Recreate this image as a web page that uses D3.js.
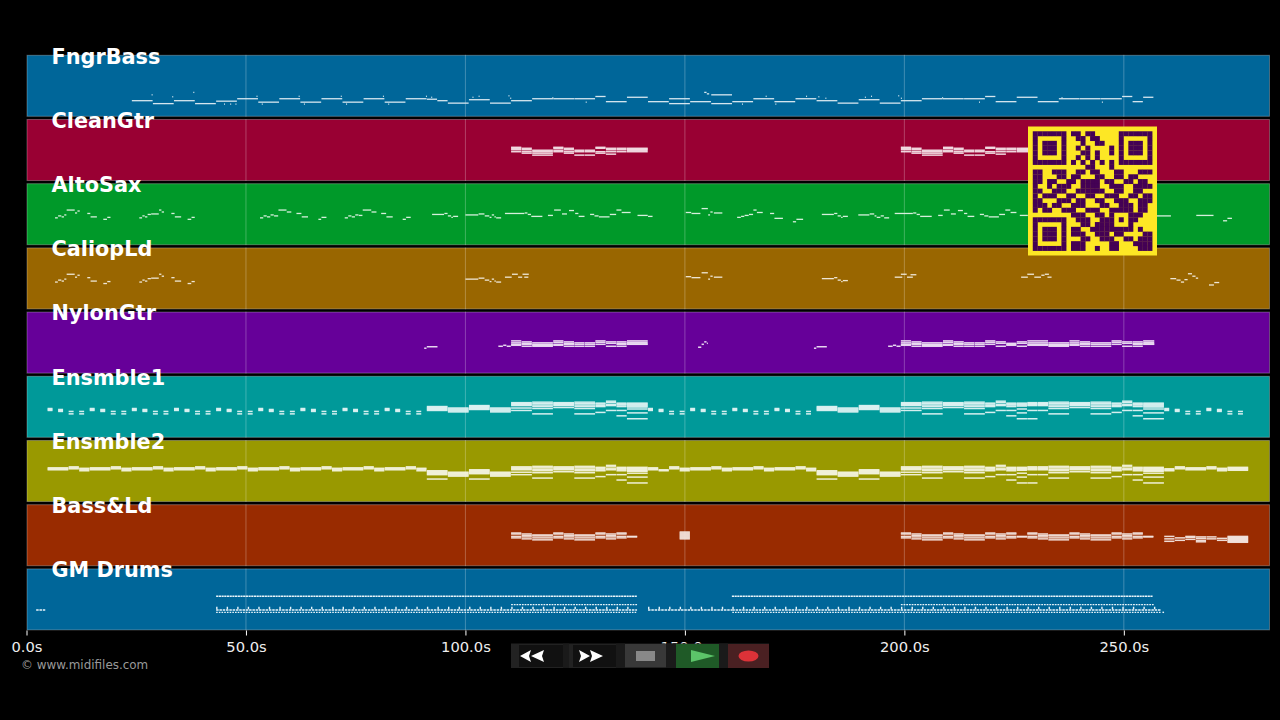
<!DOCTYPE html>
<html><head><meta charset="utf-8"><style>html,body{margin:0;background:#000;overflow:hidden}</style>
<script src="https://cdn.jsdelivr.net/npm/d3@7"></script></head><body><svg id="c" width="1280" height="720"></svg>
<script>
const tracks=["FngrBass","CleanGtr","AltoSax","CaliopLd","NylonGtr","Ensmble1","Ensmble2","Bass&Ld","GM Drums"];
const trackColors=["#006699","#990033","#009929","#996600","#660099","#009999","#999900","#992b00","#006699"];
const timeTicks=[0,50,100,150,200,250];
const duration=283.3;
// notes: [start seconds, end seconds, pitch, pitch...]
const fngrBass=[[24,28.8,33],[28.8,33.6,27],[33.6,38.4,33],[38.4,43.2,27],[43.2,48,32],[48,52.8,37],[52.8,57.6,30],[57.6,62.4,37],[62.4,67.2,30],[67.2,72,37],[72,76.8,30],[76.8,81.6,37],[81.6,86.4,30],[86.4,91.2,37],[91.2,93.6,36],[93.6,96,33],[96,100.8,28],[100.8,105.6,35],[105.6,110.4,28],[110.4,115.2,33],[115.2,120,37],[120,124.8,37],[124.8,129.6,37],[129.6,132,41.6],[132,136.8,31],[136.8,141.6,40],[141.6,146.4,31],[146.4,151.2,37,27],[151.2,156,31],[156,160.8,45,27],[154.4,155,50],[155,155.6,47],[160.8,165.6,31],[165.6,170.4,37],[170.4,175.2,31],[175.2,180,37],[180,184.8,33],[184.8,189.6,28],[189.6,194.4,35],[194.4,199.2,28],[199.2,204,33],[204,208.8,37],[208.8,213.6,37],[213.6,218.4,37],[218.4,220.8,41.6],[220.8,225.6,31],[225.6,230.4,40],[230.4,235.2,31],[235.2,240,37],[240,244.8,37],[244.8,249.6,37],[249.6,252,41.6],[252,254.4,31],[254.4,256.8,40],
[28.5,28.8,45],[33.2,33.5,41],[38,38.3,50],[45,45.3,26],[46.4,46.7,26],[47.6,47.9,26],[52.4,52.7,42],[53.6,53.9,26],[62,62.3,42],[63.2,63.5,26],[71.6,71.9,42],[72.8,73.1,26],[81.2,81.5,42],[82.4,82.7,26],[91,91.3,42],[92.2,92.5,40],[101.6,101.9,40],[103,103.3,42],[109.8,110.1,43],[110.2,110.5,38],[119.8,120.1,39],[127.4,127.7,30],[163,163.3,26],[168.4,168.7,42],[170.6,170.9,26],[177.6,177.9,42],[180.4,180.7,41],[182,182.3,38],[191,191.3,40],[192.4,192.7,42],[198.6,198.9,43],[199.2,199.5,38],[208.6,208.9,39],[217,217.3,30],[235.8,236.1,39],[245,245.3,30]];
const cleanGtr=[[110.4,112.8,69,67,64,60],[112.8,115.2,67,64,60,57],[115.2,120,63,60,57,53],[120,122.4,69,67,63,60],[122.4,124.8,67,64,60,57],[124.8,127.2,63,60,53],[127.2,129.6,63,60,53],[129.6,132,69,67,60,57],[132,134.4,67,64,60,55],[134.4,136.8,67,64,60],[136.8,141.6,67,65,63,60],
[199.2,201.6,69,67,64,60],[201.6,204,67,64,60,57],[204,208.8,63,60,57,53],[208.8,211.2,69,67,63,60],[211.2,213.6,67,64,60,57],[213.6,216,63,60,53],[216,218.4,63,60,53],[218.4,220.8,69,67,60,57],[220.8,223.2,67,64,60,55],[223.2,225.6,67,64,60],[225.6,230.4,67,65,63,60]];
const altoSax=[[6.5,7.2,56],[7.2,8,60],[8,8.6,58],[8.6,9.15,62],[9.15,11.05,72],[11.05,11.6,66],[11.6,12.2,70],[13.85,14.6,65],[14.6,16.1,58],[17.5,18.4,53],[18.4,19.2,57],
[25.7,26.4,56],[26.4,27,60],[27,27.6,58],[27.6,28.4,63],[28.4,30.2,64],[30.2,30.8,72],[30.8,31.4,68],[33,33.8,65],[33.8,35.3,58],[36.7,37.6,53],[37.6,38.4,57],
[53.2,54,56],[54,54.8,60],[54.8,55.6,58],[55.6,56.4,62],[56.4,57.4,60],[57.4,59.3,72],[59.3,60.4,68],[61.5,62.7,65],[62.7,64.2,58],[66.5,67.2,53],[67.2,68.4,57],
[72.5,73.3,56],[73.3,74.1,60],[74.1,74.9,58],[74.9,75.7,62],[75.7,76.6,61],[76.6,78.6,72],[78.6,79.8,68],[80.8,82,65],[82,83.5,58],[85.7,86.5,53],[86.5,87.6,57],
[92.4,95.2,63],[95.2,96,65],[96,96.8,60],[96.8,97.2,57],[97.2,98.4,59],
[100,103,62],[103,104.4,64],[104.4,105.5,60],[105.5,106,57],[106,106.6,62],[106.6,107,58],[107,108.2,56],
[109,113.5,65],[113.5,114.2,66],[114.2,115,63],[115,117.6,59],
[118.8,120,61],[120.2,121.8,72],[122,123.2,64],[123.6,124.8,71],[125,125.8,65],[125.8,127.2,59],
[128.4,129.4,63],[129.4,130.4,60],[130.4,132.9,58],[132.9,134.4,63],[134.4,135.6,72],[135.6,137.7,67],
[139.2,141.6,61],[141.6,142.7,59],
[150.2,151.5,67],[151.5,153.6,65],[153.8,155.3,75],[155.3,155.8,62],[155.8,156.4,68],[156.6,158.6,66],
[161.9,162.8,57],[162.8,163.6,59],[163.6,164.6,61],[164.6,165.6,63],[165.6,166.4,72],[166.4,167.8,67],
[169.4,170.4,65],[170.4,172.4,55],[174.6,175.4,48],[175.4,177,53],
[181.2,184,63],[184,184.8,65],[184.8,185.6,60],[185.6,186,57],[186,187.2,59],
[189.5,192.1,62],[192.1,193.2,64],[193.2,193.7,60],[193.7,194.6,57],[194.6,195.4,60],[195.4,196.6,56],
[197.8,202,65],[202,202.8,66],[202.8,203.6,63],[203.6,206.3,59],
[207.7,208.8,61],[209,210.4,72],[210.6,211.8,64],[212.2,213.4,71],[213.6,214.4,65],[214.4,216,59],
[217.2,218.2,63],[218.2,219.2,60],[219.2,221.6,58],[221.6,223,63],[223,224.2,72],[224.2,225.6,67],[226.3,228.2,61],
[257.4,260.8,60],[266.5,270.5,61],[272.6,273.6,50],[273.6,274.7,55]];
const caliopLd=[[6.5,7.2,56],[7.2,8,60],[8,8.6,58],[8.6,9.15,62],[9.15,11.05,72],[11.05,11.6,66],[11.6,12.2,70],[13.85,14.6,65],[14.6,16.1,58],[17.5,18.4,53],[18.4,19.2,57],
[25.7,26.4,56],[26.4,27,60],[27,27.6,58],[27.6,28.4,63],[28.4,30.2,64],[30.2,30.8,72],[30.8,31.4,68],[33,33.8,65],[33.8,35.3,58],[36.7,37.6,53],[37.6,38.4,57],
[100,103,62],[103,104.4,64],[104.4,105.5,60],[105.5,106,57],[106,106.6,62],[106.6,107,58],[107,108.2,56],
[109,110.6,66],[110.6,112,72],[112,113,66],[113.4,114.4,66],[113,114.5,72],
[150.2,151.5,67],[151.5,153.6,65],[153.8,155.3,75],[155.3,155.8,62],[155.8,156.4,68],[156.6,158.6,66],
[181.2,184,63],[184,184.8,65],[184.8,185.6,60],[185.6,186,57],[186,187.2,59],
[197.8,199.6,66],[199.2,200.6,72],[200.6,202,66],[201.4,202.8,71],
[226.6,228.2,66],[228,229.6,72],[229.6,231.2,66],[231.2,232,70],[232,233,72],[232.6,233.6,66],
[260.6,262,63],[262,263,60],[263,263.8,56],[263.8,264.6,61],[264.6,265.6,73],[265.6,266.4,68],[266.4,267,64],
[269.4,270.6,50],[270.6,271.8,55]];
const nylonGtr=[[90.6,91.2,52],[91.2,93.7,55],[107.5,108.6,56],[108.6,109.4,58],[109.4,110.4,56],
[110.4,112.8,67,63,60,58],[112.8,115.2,65,62,60,56],[115.2,120,63,60,58,56],[120,122.4,67,64,60,58],[122.4,124.8,65,62,60,56],[124.8,127.2,63,60,56],[127.2,129.6,63,60,56],[129.6,132,67,64,60],[132,134.4,65,62,56],[134.4,136.8,65,62,60,56],[136.8,141.6,67,64,61,60],
[153,153.8,54],[153.8,154.4,60],[154.4,155,65],[155,155.3,62],[179.4,180,52],[180,182.4,55],
[196.3,197.4,56],[197.4,198.2,58],[198.2,199.2,56],
[199.2,201.6,67,63,60,58],[201.6,204,65,62,60,56],[204,208.8,63,60,58,56],[208.8,211.2,67,64,60,58],[211.2,213.6,65,62,60,56],[213.6,216,63,60,56],[216,218.4,63,60,56],[218.4,220.8,67,64,60],[220.8,223.2,65,62,56],[223.2,225.6,62,60,58],[225.6,228,65,62,56],[228,232.8,67,63,60,58],[232.8,237.6,63,60,58,56],[237.6,240,67,63,60,58],[240,242.4,65,62,60,56],[242.4,247.2,63,60,56],[247.2,249.6,67,64,60],[249.6,252,65,62,56],[252,254.4,65,62,60,56],[254.4,257,67,64,61,60]];
const ensmble1=[[4.8,6,60,58,56],[7.2,8.4,58,56,54],[9.6,10.8,54,49],[12,13.2,54,49],[14.4,15.6,60,58,56],[16.8,18,58,56,54],[19.2,20.4,54,49],[21.6,22.8,54,49],[24,25.2,60,58,56],[26.4,27.6,58,56,54],[28.8,30,54,49],[31.2,32.4,54,49],[33.6,34.8,60,58,56],[36,37.2,58,56,54],[38.4,39.6,54,49],[40.8,42,54,49],[43.2,44.4,60,58,56],[45.6,46.8,58,56,54],[48,49.2,54,49],[50.4,51.6,54,49],[52.8,54,60,58,56],[55.2,56.4,58,56,54],[57.6,58.8,54,49],[60,61.2,54,49],[62.4,63.6,60,58,56],[64.8,66,58,56,54],[67.2,68.4,54,49],[69.6,70.8,54,49],[72,73.2,60,58,56],[74.4,75.6,58,56,54],[76.8,78,54,49],[79.2,80.4,54,49],[81.6,82.8,60,58,56],[84,85.2,58,56,54],[86.4,87.6,54,49],[88.8,90,54,49],
[91.2,96,64,62,60,58,56],[96,100.8,61,59,57,55,53],[100.8,105.6,66,64,62,60,58],[105.6,110.4,61,59,57,55,53],[110.4,115.2,72,70,68,66,61,56],[115.2,120,73,70,67,64,60,49],[120,124.8,72,70,68,66,62],[124.8,129.6,73,70,67,64,60,49],[129.6,132,71,69,66,64,52],[132,134.4,75,72,68,66,56],[134.4,136.8,71,69,67,64,56,45],[136.8,141.6,71,69,67,65,63,59,51,39],
[141.6,142.8,60,58,56],[144,145.2,58,56,54],[146.4,147.6,54,49],[148.8,150,54,49],[151.2,152.4,60,58,56],[153.6,154.8,58,56,54],[156,157.2,54,49],[158.4,159.6,54,49],[160.8,162,60,58,56],[163.2,164.4,58,56,54],[165.6,166.8,54,49],[168,169.2,54,49],[170.4,171.6,60,58,56],[172.8,174,58,56,54],[175.2,176.4,54,49],[177.6,178.8,54,49],
[180,184.8,64,62,60,58,56],[184.8,189.6,61,59,57,55,53],[189.6,194.4,66,64,62,60,58],[194.4,199.2,61,59,57,55,53],[199.2,204,72,70,68,66,61,56],[204,208.8,73,70,67,64,60,49],[208.8,213.6,72,70,68,66,62],[213.6,218.4,73,70,67,64,60,49],[218.4,220.8,71,69,66,64,52],[220.8,223.2,75,72,68,66,56],[223.2,225.6,71,69,67,64,56,45],[225.6,228,71,69,67,65,59,51,39],[228,230.4,72,70,68,66,56,39],[230.4,232.8,72,70,68,66,56],[232.8,237.6,73,70,67,64,60,49],[237.6,242.4,72,70,68,66,62],[242.4,247.2,73,70,67,64,60,49],[247.2,249.6,71,69,66,64,52],[249.6,252,75,72,68,66,56],[252,254.4,71,69,67,64,56,45],[254.4,259.2,71,69,67,65,63,59,51,39],
[259.2,260.4,60,58,56],[261.6,262.8,58,56,54],[264,265.2,54,49],[266.4,267.6,54,49],[268.8,270,60,58,56],[271.2,272.4,58,56,54],[273.6,274.8,54,49],[276,277.2,54,49]];
const ensmble2=[[4.8,9.6,70,68,66],[9.6,12,72,70,68],[12,14.4,69,67,64],[14.4,19.2,70,68,66],[19.2,21.6,72,70,68],[21.6,24,69,67,64],[24,28.8,70,68,66],[28.8,31.2,72,70,68],[31.2,33.6,69,67,64],[33.6,38.4,70,68,66],[38.4,40.8,72,70,68],[40.8,43.2,69,67,64],[43.2,48,70,68,66],[48,50.4,72,70,68],[50.4,52.8,69,67,64],[52.8,57.6,70,68,66],[57.6,60,72,70,68],[60,62.4,69,67,64],[62.4,67.2,70,68,66],[67.2,69.6,72,70,68],[69.6,72,69,67,64],[72,76.8,70,68,66],[76.8,79.2,72,70,68],[79.2,81.6,69,67,64],[81.6,86.4,70,68,66],[86.4,88.8,72,70,68],[88.8,91.2,69,67,64],
[91.2,96,64,62,60,58,56,47],[96,100.8,61,59,57,55,53],[100.8,105.6,66,64,62,60,58,47],[105.6,110.4,61,59,57,55,53],[110.4,115.2,72,70,68,66,61,56],[115.2,120,73,70,67,64,60,49],[120,124.8,72,70,68,66,62],[124.8,129.6,73,70,67,64,60,49],[129.6,132,71,69,66,64,52],[132,134.4,75,72,68,66,56],[134.4,136.8,71,69,67,64,56,45],[136.8,141.6,71,69,67,65,63,59,51,39],
[141.6,144,70,68,66],[144,146.4,66,64],[146.4,148.8,72,70,68],[148.8,151.2,69,67,64],[151.2,156,70,68,66],[156,158.4,72,70,68],[158.4,160.8,69,67,64],[160.8,165.6,70,68,66],[165.6,168,72,70,68],[168,170.4,69,67,64],[170.4,175.2,70,68,66],[175.2,177.6,72,70,68],[177.6,180,69,67,64],
[180,184.8,64,62,60,58,56,47],[184.8,189.6,61,59,57,55,53],[189.6,194.4,66,64,62,60,58,47],[194.4,199.2,61,59,57,55,53],[199.2,204,72,70,68,66,61,56],[204,208.8,73,70,67,64,60,49],[208.8,213.6,72,70,68,66,62],[213.6,218.4,73,70,67,64,60,49],[218.4,220.8,71,69,66,64,52],[220.8,223.2,75,72,68,66,56],[223.2,225.6,71,69,67,64,56,45],[225.6,228,71,69,67,65,59,51,39],[228,230.4,72,70,68,66,56,39],[230.4,232.8,72,70,68,66,56],[232.8,237.6,73,70,67,64,60,49],[237.6,242.4,72,70,68,66,62],[242.4,247.2,73,70,67,64,60,49],[247.2,249.6,71,69,66,64,52],[249.6,252,75,72,68,66,56],[252,254.4,71,69,67,64,56,45],[254.4,259.2,71,69,67,65,63,59,51,39],
[259.2,261.6,68,66,64],[261.6,264,72,70,68],[264,268.8,70,68,66],[268.8,271.2,72,70,68],[271.2,273.6,69,67,64],[273.6,278.4,71,69,67,65]];
const bassLd=[[110.4,112.8,68,66,61,58],[112.8,115.2,66,63,60,56],[115.2,120,64,62,58,54],[120,122.4,68,66,61,58],[122.4,124.8,66,63,60,56],[124.8,129.6,64,62,58,54],[129.6,132,68,66,61,58],[132,134.4,66,63,60,56],[134.4,136.8,68,66,61,58],[136.8,139.2,61,60],[148.8,151.2,70,68,66,64,62,60,58,56],
[199.2,201.6,68,66,61,58],[201.6,204,66,63,60,56],[204,208.8,64,62,58,54],[208.8,211.2,68,66,61,58],[211.2,213.6,66,63,60,56],[213.6,218.4,64,62,58,54],[218.4,220.8,68,66,61,58],[220.8,223.2,66,63,60,56],[223.2,225.6,68,66,61,58],[225.6,228,61,60],[228,230.4,68,66,61,58],[230.4,232.8,66,63,60,56],[232.8,237.6,64,62,58,54],[237.6,240,68,66,61,58],[240,242.4,66,63,60,56],[242.4,247.2,64,62,58,54],[247.2,249.6,68,66,61,58],[249.6,252,66,63,60,56],[252,254.4,68,66,61,58],[254.4,256.8,61,60],
[259.2,261.6,61,56,51],[261.6,264,58,53],[264,266.4,61,59,55],[266.4,268.8,60,57,53,50],[268.8,271.2,60,56],[271.2,273.6,57,53],[273.6,278.4,61,59,57,55,53,51,49]];
// drums: [start seconds, end seconds, pitch]
const drumHat=[[43.2,139.1,70],[160.7,256.6,70]];
const drumCrash=[[110.4,139.1,53],[199.2,256.8,53]];
const drumSnare=[[2.2,4.4,42],[43.2,139.1,42],[141.6,160.8,42],[160.8,258.4,42]];
const drumKick=[[43.2,139.1,37],[160.8,258.4,37],[258.8,259.2,37]];
const drumTicks=[[43.2,139.1,46],[141.6,258.4,46]];
const qrRows=["1111111011011000001111111","1000001001101100001000001","1011101000100110001011101","1011101001010000101011101","1011101000110100101011101","1000001001010100001000001","1111111010101010101111111","0000000000011000100000000",
"1100111001101100011000111","1100011011000110011011000","1101100110111101100110110","1001011100111100111001111","1100111001111110011001100","1011100110011001110011011","1100011101100110011100111","1110110011100011001110110",
"1011001110011100111110110","0000000011100110100011100","1111111001110011101011000","1000001000110111100010000","1011101011001111111110100","1011101011100111011000011","1011101000110011100110111","1000001011100000110001111","1111111011100100110000111"];
const trackNotes=[fngrBass,cleanGtr,altoSax,caliopLd,nylonGtr,ensmble1,ensmble2,bassLd];

const svg=d3.select("#c");
svg.append("rect").attr("width",1280).attr("height",720).attr("fill","#000");
const x=d3.scaleLinear().domain([0,duration]).range([26.5,1270]);
const band=d3.scaleBand().domain(tracks).range([54.8,630.4]).paddingInner(0.0343);
const pitch=d3.scaleLinear().domain([0,127]).range([band.bandwidth(),0]);
const tint=c=>d3.interpolateRgb(c,"#fff")(0.88);

const rows=svg.selectAll("g.t").data(tracks).join("g").attr("class","t").attr("transform",d=>`translate(0,${band(d)})`);
rows.append("rect").attr("x",x(0)+.5).attr("y",.5).attr("width",x(duration)-x(0)-1).attr("height",band.bandwidth()-1)
  .attr("fill",(d,i)=>trackColors[i]).attr("stroke","rgba(255,255,255,.28)").attr("stroke-width",1);
rows.selectAll("line.g").data(timeTicks.slice(1)).join("line").attr("class","g")
  .attr("x1",d=>x(d)).attr("x2",d=>x(d)).attr("y1",0).attr("y2",band.bandwidth())
  .attr("stroke","rgba(255,255,255,.25)").attr("stroke-width",1);

trackNotes.forEach((notes,i)=>{
  const g=svg.append("g").attr("transform",`translate(0,${band(tracks[i])})`);
  const flat=notes.flatMap(n=>n.slice(2).map(p=>({a:n[0],b:n[1],p})));
  const thick=i>=5?1.5:(i==1||i==4)?1.5:1.3;
  g.selectAll("rect").data(flat).join("rect")
    .attr("x",d=>x(d.a)).attr("width",d=>Math.max(1,x(d.b)-x(d.a)-0.3))
    .attr("y",d=>pitch(d.p)-thick/2).attr("height",thick)
    .attr("fill",tint(trackColors[i])).attr("fill-opacity",.95);
});
const dg=svg.append("g").attr("transform",`translate(0,${band("GM Drums")})`);
[[drumHat,"2.2 .5",1.4],[drumCrash,"1.8 .9",1.3],[drumSnare,"2.5 .8",1.5],[drumKick,"1.6 1.1",1.4],[drumTicks,"1.4 9.14",2.4]].forEach(([runs,dash,w])=>{
  dg.selectAll(null).data(runs).join("line").attr("x1",d=>x(d[0])).attr("x2",d=>x(d[1]))
    .attr("y1",d=>pitch(d[2])).attr("y2",d=>pitch(d[2]))
    .attr("stroke","#e8f4fa").attr("stroke-width",w).attr("stroke-dasharray",dash);
});

// QR
const qrBox=d3.scaleBand().domain(d3.range(27)).range([1028,1157]);
const qrBoxY=d3.scaleBand().domain(d3.range(27)).range([126.5,255.5]);
const qr=svg.append("g");
qr.append("rect").attr("x",1028).attr("y",126.5).attr("width",129).attr("height",129).attr("fill","#fde725");
qrRows.forEach((row,r)=>[...row].forEach((c,k)=>{ if(c==="1") qr.append("rect").attr("x",qrBox(k+1)).attr("y",qrBoxY(r+1)).attr("width",qrBox.bandwidth()+.2).attr("height",qrBoxY.bandwidth()+.2).attr("fill","#440154");}));

// axis
const ax=svg.append("g").attr("transform","translate(0,630.5)").call(d3.axisBottom(x).tickValues(timeTicks).tickFormat(d=>d.toFixed(1)+"s").tickSize(5).tickPadding(6));
ax.select(".domain").remove();
ax.selectAll("line").attr("stroke","#fff");
ax.selectAll("text").attr("fill","#eee").attr("font-family","DejaVu Sans").attr("font-size",14.7);

// labels
svg.selectAll("text.l").data(tracks).join("text").attr("class","l").attr("x",51.5).attr("y",d=>band(d)+8.7)
  .text(d=>d).attr("fill","#fff").attr("font-family","DejaVu Sans").attr("font-weight","bold").attr("font-size",20.8);
svg.append("text").attr("x",21).attr("y",669).text("© www.midifiles.com").attr("fill","#999").attr("font-family","DejaVu Sans").attr("font-size",11.95);

// transport controls
const c=svg.append("g");
const R=(a,b,w,h,f)=>c.append("rect").attr("x",a).attr("y",b).attr("width",w).attr("height",h).attr("fill",f);
const P=(pts,f)=>c.append("polygon").attr("points",pts).attr("fill",f);
R(511,643.5,258,24.5,"#222");R(519,645,44,22,"#111");R(563,643.5,6,24.5,"#1a1a1a");R(573,645,43,22,"#111");R(616,643.5,9,24.5,"#1a1a1a");
R(625,644,41,23,"#383838");R(636,651,19,10,"#888");
R(666,643.5,10,24.5,"#1a1a1a");R(676,644,43,24,"#1f5a27");P("691,650 715,656 691,662","#5cc469");
R(719,643.5,9,24.5,"#1a1a1a");R(728,644,41,24,"#4a2022");c.append("ellipse").attr("cx",748.5).attr("cy",656).attr("rx",10).attr("ry",5.5).attr("fill","#dc3238");
P("520,656 531,650 529,656 531,662","#fff");P("531,656 544,650 542,656 544,662","#fff");
P("590,650 603,656 590,662 592,656","#fff");P("579,650 590,656 579,662 581,656","#fff");
</script></body></html>
